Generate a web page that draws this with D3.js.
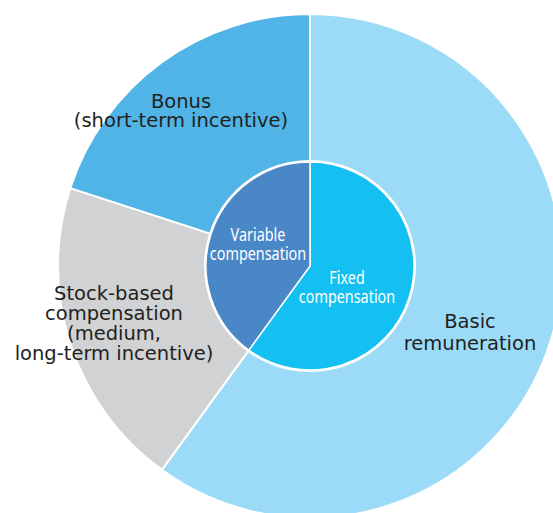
<!DOCTYPE html>
<meta charset="utf-8">
<style>
body { margin: 0; background: #fff; }
.outer-label { fill: #231f20; font-family: "DejaVu Sans", sans-serif; font-size: 19.5px; }
.inner-label { fill: #fff; font-family: "Noto Sans", sans-serif; font-size: 18px; }
</style>
<svg width="553" height="513"></svg>
<script src="https://cdn.jsdelivr.net/npm/d3@7"></script>
<script>

// outer ring: breakdown of remuneration
var outerNames = ["Basic remuneration", "Stock-based compensation", "Bonus"];
var outerValues = [60, 20, 20];
var outerColors = ["#9cdbf7", "#d1d2d4", "#50b4e6"];
var outerLines = [
  ["Basic", "remuneration"],
  ["Stock-based", "compensation", "(medium,", "long-term incentive)"],
  ["Bonus", "(short-term incentive)"]
];

// inner pie: fixed vs variable
var innerNames = ["Fixed compensation", "Variable compensation"];
var innerValues = [60, 40];
var innerColors = ["#13c0f1", "#4a87c7"];
var innerLines = [["Fixed", "compensation"], ["Variable", "compensation"]];

var svg = d3.select("svg"),
    cx = 310,
    cy = 266,
    R = 252,
    r = 104;

var g = svg.append("g").attr("transform", "translate(" + cx + "," + cy + ")");

var pie = d3.pie().sort(null).value(function(d) { return d; });

var outerArc = d3.arc().innerRadius(0).outerRadius(R);
var innerArc = d3.arc().innerRadius(0).outerRadius(r);

g.selectAll("path.outer")
    .data(pie(outerValues))
  .enter().append("path")
    .attr("class", "outer")
    .attr("d", outerArc)
    .attr("fill", function(d, i) { return outerColors[i]; })
    .attr("stroke", "#fff")
    .attr("stroke-width", 2);

g.append("circle")
    .attr("r", r + 2)
    .attr("fill", "#fff");

g.selectAll("path.inner")
    .data(pie(innerValues))
  .enter().append("path")
    .attr("class", "inner")
    .attr("d", innerArc)
    .attr("fill", function(d, i) { return innerColors[i]; })
    .attr("stroke", "#fff")
    .attr("stroke-width", 1.5);

// label anchors, relative to the centre (first baseline)
var outerPos = [[160, 62], [-196, 34], [-129, -158]];
var outerStep = [22, 20, 19];
var innerPos = [[37, 18], [-52, -25]];

// the inner labels are set in a narrow face in the original
function addLabel(cls, lines, p, step, sx) {
  var t = g.append("text")
      .attr("class", cls)
      .attr("text-anchor", "middle")
      .attr("transform", "translate(" + p[0] + "," + p[1] + ") scale(" + sx + ",1)");
  lines.forEach(function(s, j) {
    t.append("tspan")
        .attr("x", 0)
        .attr("y", j * step)
        .text(s);
  });
}

outerLines.forEach(function(lines, i) { addLabel("outer-label", lines, outerPos[i], outerStep[i], 1); });
innerLines.forEach(function(lines, i) { addLabel("inner-label", lines, innerPos[i], 19, 0.8); });

</script>
